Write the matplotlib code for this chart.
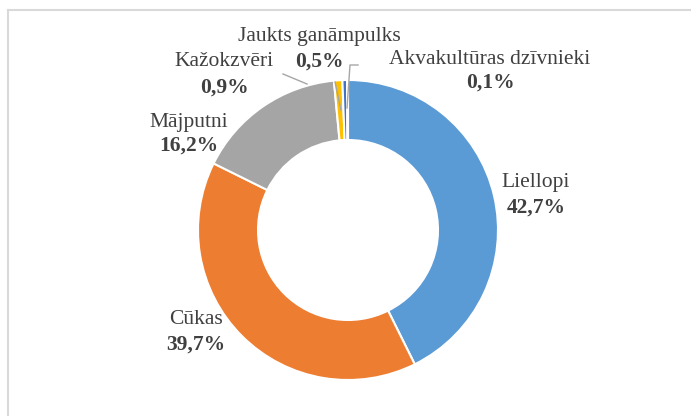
import matplotlib
matplotlib.use("Agg")
import matplotlib.pyplot as plt
from matplotlib.lines import Line2D

plt.rcParams['font.family'] = ['Liberation Serif', 'DejaVu Serif']

# data
names = ['Liellopi', 'Cūkas', 'Mājputni', 'Kažokzvēri', 'Jaukts ganāmpulks', 'Akvakultūras dzīvnieki']
shares = [42.7, 39.7, 16.2, 0.9, 0.5, 0.1]
colors = ['#5B9BD5', '#ED7D31', '#A5A5A5', '#FFC000', '#4472C4', '#70AD47']

# label placement in picture pixels (name line, percent line)
label_px = [(536, 183, 208), (196, 320, 345), (189, 123, 146),
            (224, 62, 88), (319, 37, 62), (490, 60, 83)]

W, H = 691, 416
CX, CY, R = 348, 230, 150
TXT = '#404040'


def px(x, y):
    # picture pixels -> data units (radius 1 == R px)
    return (x - CX) / R, (CY - y) / R


fig = plt.figure(figsize=(W / 100, H / 100), dpi=100)
ax = fig.add_axes([0, 0, 1, 1])
ax.set_xlim(-CX / R, (W - CX) / R)
ax.set_ylim(-(H - CY) / R, CY / R)
ax.axis('off')

ax.pie(shares, colors=colors, startangle=90, counterclock=False, radius=1,
       wedgeprops=dict(width=0.4, edgecolor='white', linewidth=1.5))
ax.set_xlim(-CX / R, (W - CX) / R)
ax.set_ylim(-(H - CY) / R, CY / R)
ax.set_aspect('auto')

for name, val, (x, y1, y2) in zip(names, shares, label_px):
    tx, ty = px(x, y1)
    ax.text(tx, ty, name, ha='center', va='center', fontsize=15.5, color=TXT)
    tx, ty = px(x, y2)
    ax.text(tx, ty, ('%.1f%%' % val).replace('.', ','), ha='center', va='center',
            fontsize=15.5, color=TXT, weight='bold')

# leader lines for the small slices
leaders = [[(283, 74), (307, 84)],
           [(335, 82), (341, 110)],
           [(358, 65), (350, 65), (347, 108)]]
for pts in leaders:
    xs, ys = zip(*[px(a, b) for a, b in pts])
    ax.plot(xs, ys, color='#A6A6A6', lw=1, zorder=5)

# chart area border
fig.add_artist(Line2D([8 / W, 8 / W], [0, 1 - 10 / H], transform=fig.transFigure,
                      color='#D9D9D9', lw=1.5))
fig.add_artist(Line2D([8 / W, 1], [1 - 10 / H, 1 - 10 / H], transform=fig.transFigure,
                      color='#D9D9D9', lw=1.5))

plt.savefig('out.png', dpi=100)
